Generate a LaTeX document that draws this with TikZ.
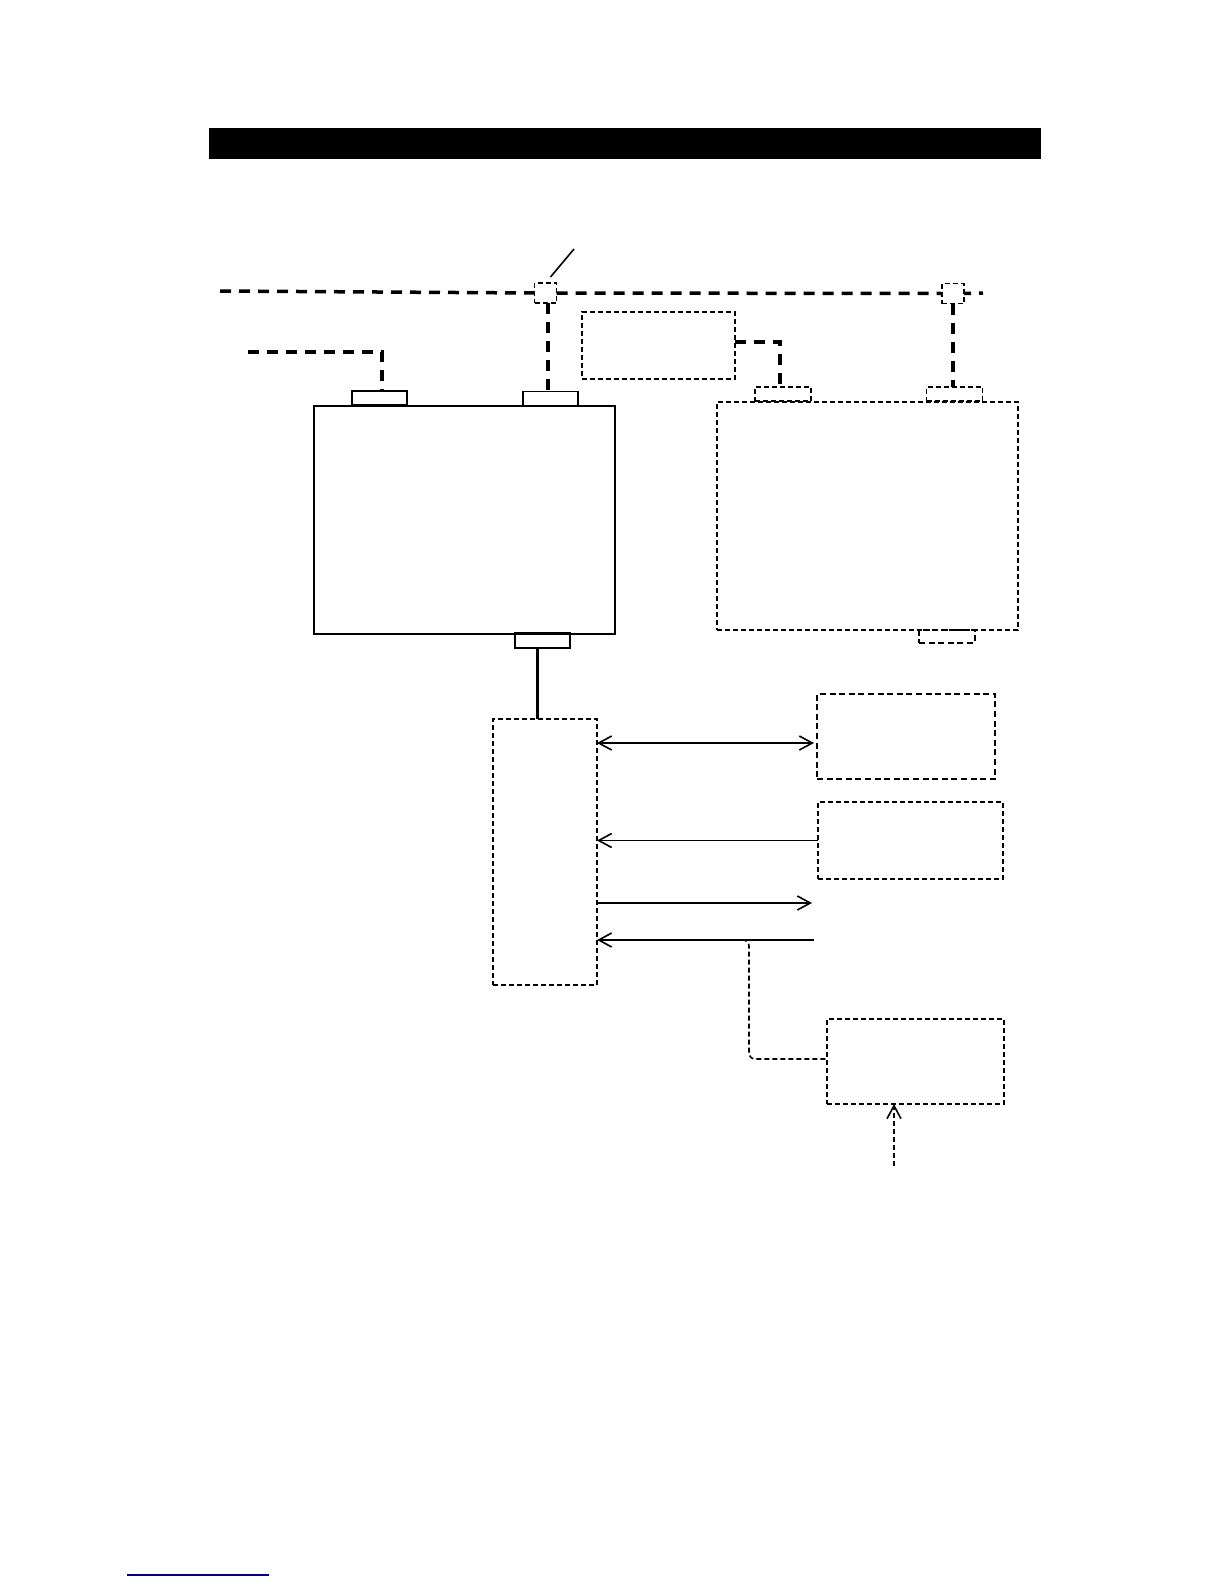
\documentclass[tikz,border=0pt]{standalone}
\usetikzlibrary{arrows.meta}
\begin{document}
\begin{tikzpicture}[
x=0.5pt,y=-0.5pt,
>={Straight Barb[length=6.5pt,width=7pt]},
every node/.style={rectangle,inner sep=0pt,outer sep=0pt},
bus/.style={line width=1.75pt,dash pattern=on 5.5pt off 4pt},
dbox/.style={draw,line width=0.7pt,dash pattern=on 2.5pt off 1.5pt},
hbox/.style={draw,line width=1pt,dash pattern=on 3pt off 1.8pt},
plug/.style={draw,line width=0.8pt,minimum width=27.5pt,minimum height=7pt},
dplug/.style={dbox,minimum width=28pt,minimum height=7pt},
sig/.style={line width=0.8pt},
dsig/.style={line width=0.8pt,dash pattern=on 2.5pt off 1.5pt}
]
\useasboundingbox (0,0) rectangle (1224,1584);
% title bar
\node[fill=black,minimum width=416pt,minimum height=15.5pt] (titlebar) at (625,143.5) {};
% bus and taps
\node[dbox,minimum width=11pt,minimum height=10pt] (tapL) at (545.5,293) {};
\node[dbox,minimum width=11pt,minimum height=10pt] (tapR) at (953,293.5) {};
\coordinate (busW) at (220,291);
\coordinate (busE) at (983,293);
\coordinate (lead) at (574,249);
\draw[bus] (busW) -- (tapL.west);
\draw[bus] (tapL.east) -- (tapR.west);
\draw[bus,dash phase=2pt] (tapR.east) -- (busE);
\draw[sig] ([shift={(5,-6)}]tapL.north) -- (lead);
% controller
\node[draw,line width=1pt,minimum width=150.5pt,minimum height=114pt] (ctrl) at (464.5,520) {};
\node[plug] (plugA) at (379.5,398) {};
\node[plug] (plugB) at (550.5,398.5) {};
\node[plug,minimum height=7.5pt] (plugC) at (542.5,640.5) {};
\coordinate (feedW) at (248,352);
\draw[bus] (feedW) -| ([xshift=1.25pt]plugA.north);
\draw[bus] ([xshift=1.25pt]tapL.south) -- ([xshift=1.25pt]tapL.south |- plugB.north);
% second unit
\node[dbox,minimum width=76.5pt,minimum height=33.5pt] (aux) at (658.5,345.5) {};
\node[dbox,minimum width=150.5pt,minimum height=114pt] (unit) at (867.5,516) {};
\node[dplug] (plugD) at (783,394) {};
\node[dplug] (plugE) at (954.5,394) {};
\node[hbox,minimum width=28pt,minimum height=6.5pt] (plugF) at (947,636.5) {};
\draw[bus] ([yshift=1.75pt]aux.east) -| ([xshift=-1.5pt]plugD.north);
\draw[bus] (tapR.south) -- (tapR.south |- plugE.north);
% i/o module
\node[dbox,minimum width=52pt,minimum height=133pt] (io) at (545,852) {};
\draw[line width=1.5pt] ([xshift=-2.75pt]plugC.south) -- ([xshift=-2.75pt]plugC.south |- io.north);
% peripherals
\node[hbox,minimum width=89pt,minimum height=42.5pt] (boxA) at (906,736.5) {};
\node[dbox,minimum width=92.5pt,minimum height=38.5pt] (boxB) at (910.5,840.5) {};
\node[dbox,minimum width=88.5pt,minimum height=42.5pt] (boxC) at (915.5,1061.5) {};
\coordinate (rowA) at (0,743);
\coordinate (outR) at (812,903);
\coordinate (inR) at (814,940);
\coordinate (tee) at (742,940);
\coordinate (bend) at (749,1059);
\coordinate (src) at (894,1166);
\draw[sig,<->] (io.east |- rowA) -- ([xshift=-1.5pt]boxA.west |- rowA);
\draw[sig,->] (boxB.west) -- (io.east |- boxB.west);
\draw[sig,->] (io.east |- outR) -- (outR);
\draw[sig,->] (inR) -- (io.east |- inR);
\draw[dsig,rounded corners=3pt] (tee) -| (bend) -- (bend -| boxC.west);
\draw[dsig,->] (src) -- (src |- boxC.south);
% link underline
\draw[line width=0.8pt,blue!50!black] (127,1575) -- (269,1575);
\end{tikzpicture}
\end{document}
